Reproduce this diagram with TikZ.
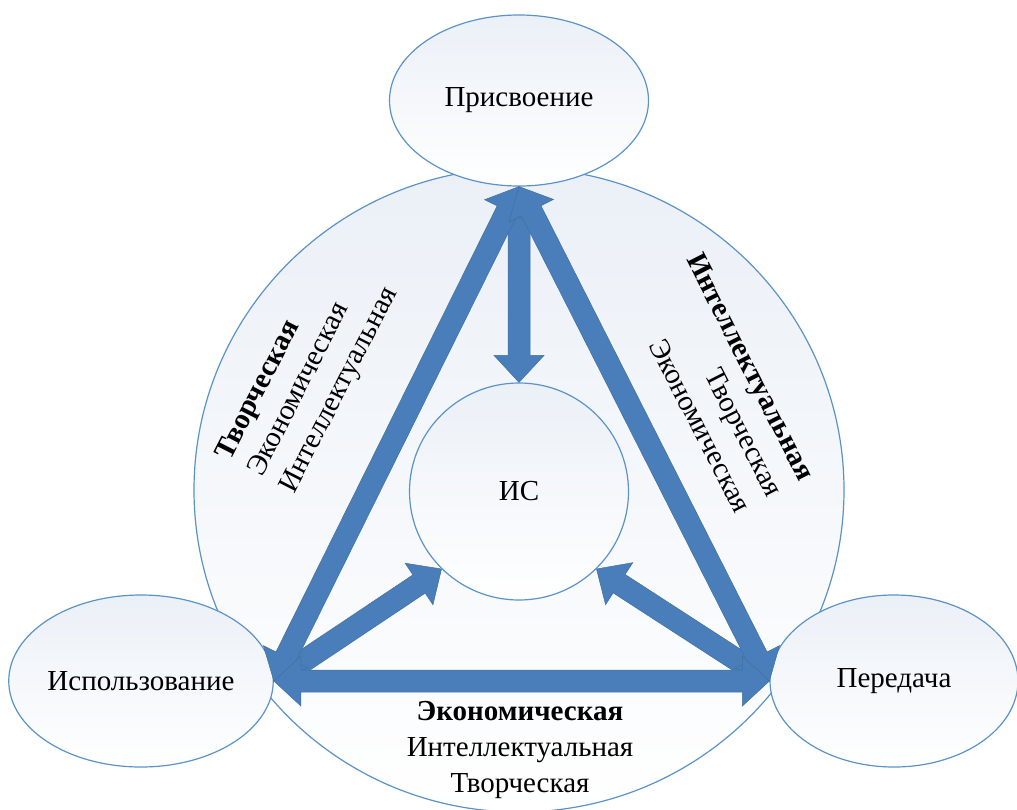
\documentclass[tikz,border=0pt]{standalone}
\usepackage{fontspec}
\setmainfont{Liberation Serif}
\usetikzlibrary{shapes.geometric,calc}
\definecolor{edgeblue}{HTML}{5B93C9}
\definecolor{arrblue}{HTML}{4A7EBB}
\definecolor{arrline}{HTML}{41719C}
\definecolor{shadetop}{HTML}{EBF0F7}
\newcommand\arrshaft{11pt}
\newcommand\arrheadw{25pt}
\newcommand\arrheadl{27pt}
\newcommand\dblarrow[2]{%
  \filldraw[arrowshape] (#1)
    -- ($(#1)!\arrheadl!(#2)!\arrheadw!90:(#2)$)
    -- ($(#1)!\arrheadl!(#2)!\arrshaft!90:(#2)$)
    -- ($(#2)!\arrheadl!(#1)!\arrshaft!-90:(#1)$)
    -- ($(#2)!\arrheadl!(#1)!\arrheadw!-90:(#1)$)
    -- (#2)
    -- ($(#2)!\arrheadl!(#1)!\arrheadw!90:(#1)$)
    -- ($(#2)!\arrheadl!(#1)!\arrshaft!90:(#1)$)
    -- ($(#1)!\arrheadl!(#2)!\arrshaft!-90:(#2)$)
    -- ($(#1)!\arrheadl!(#2)!\arrheadw!-90:(#2)$)
    -- cycle;}
\begin{document}
\begin{tikzpicture}[x=1pt,y=-1pt,
  oval/.style={ellipse, draw=edgeblue, line width=1.2pt, top color=shadetop, bottom color=white, inner sep=0pt, font=\fontsize{29}{36}\selectfont},
  lbl/.style={font=\fontsize{29}{36}\selectfont, inner sep=0pt},
  arrowshape/.style={fill=arrblue, draw=arrline, line width=0.5pt, line join=miter}]
\useasboundingbox (0,0) rectangle (1017,809);
\fill[white] (0,0) rectangle (1017,809);
\node[oval, minimum width=650pt, minimum height=644pt] (big) at (519,490) {};
\node[oval, minimum width=259pt, minimum height=171pt] (pris) at (519,100.5) {Присвоение};
\node[oval, minimum width=258pt, minimum height=172pt] (isp) at (141,681) {Использование};
\node[oval, minimum width=248pt, minimum height=172pt] (per) at (894,681) {Передача};
\node[oval, minimum width=219pt, minimum height=217pt] (ic) at (519,491.5) {ИС};
\dblarrow{pris.south}{ic.north}
\dblarrow{isp.east}{ic.225}
\dblarrow{per.west}{ic.315}
\dblarrow{pris.south}{isp.east}
\dblarrow{pris.south}{per.west}
\dblarrow{isp.east}{per.west}
\node[lbl, rotate=63, align=left] (ltxt) at (308,374) {\textbf{Творческая}\\Экономическая\\Интеллектуальная};
\node[lbl, rotate=-63, align=right] (rtxt) at (719,383) {\textbf{Интеллектуальная}\\Творческая\\Экономическая};
\node[lbl, align=center] (btxt) at (520,750) {\textbf{Экономическая}\\Интеллектуальная\\Творческая};
\end{tikzpicture}
\end{document}
